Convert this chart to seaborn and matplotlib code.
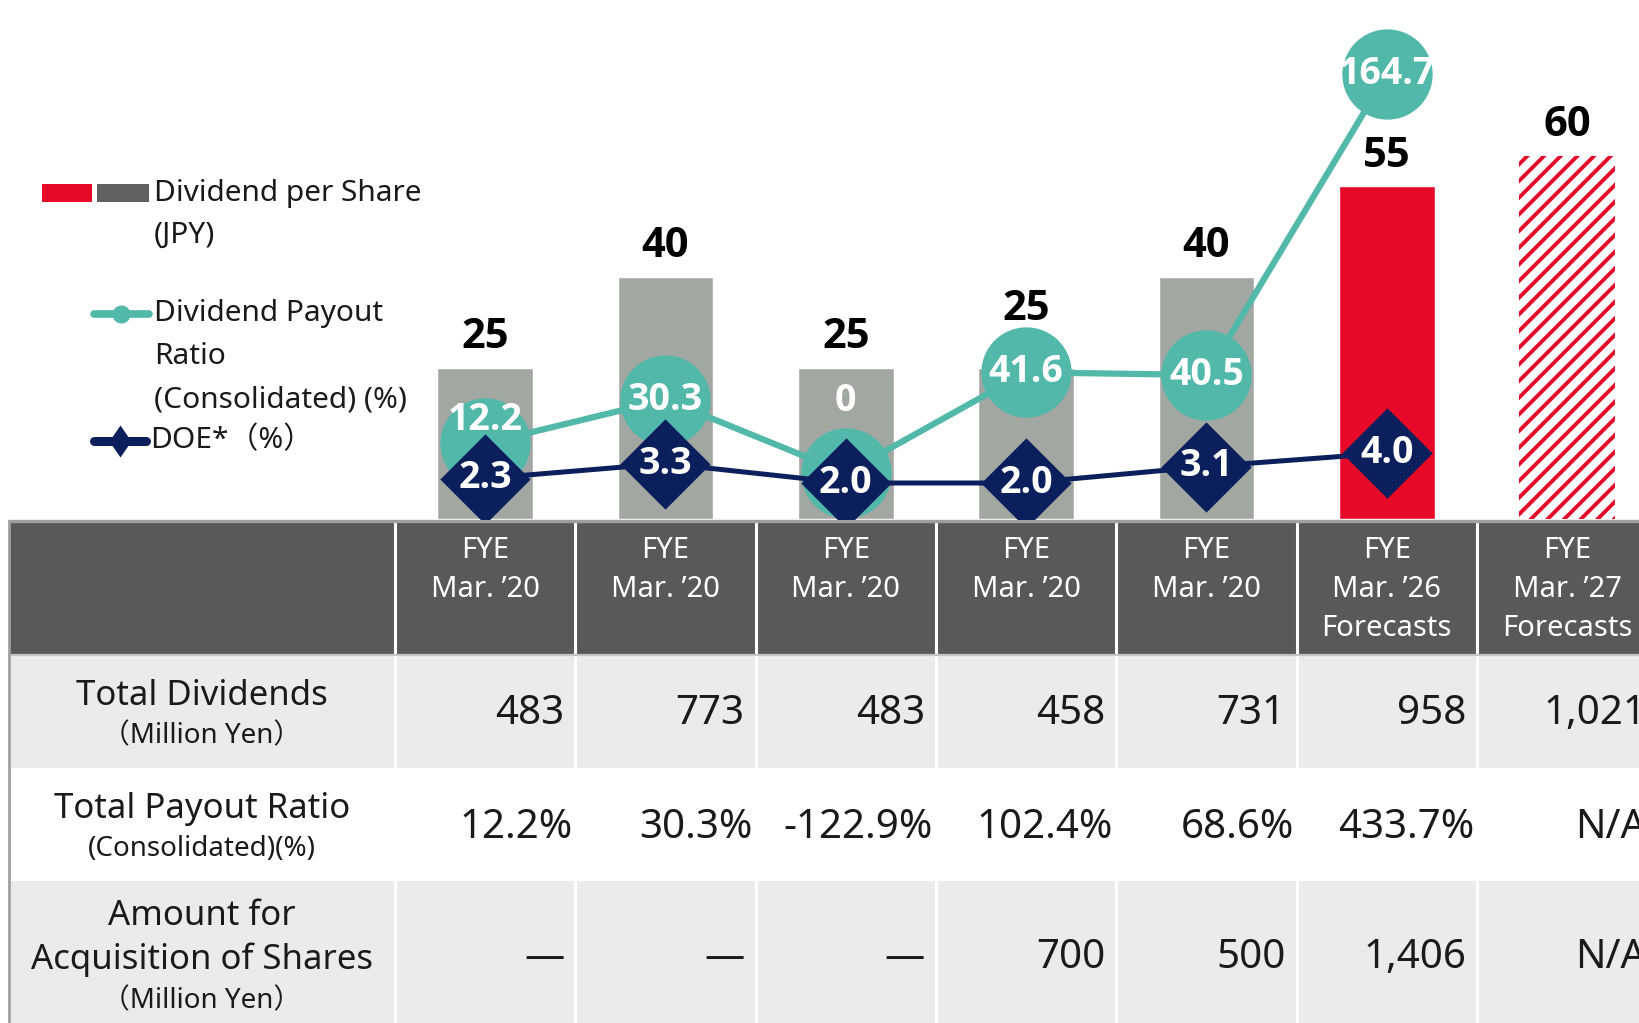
import numpy as np
import pandas as pd
import matplotlib.pyplot as plt
import seaborn as sns
from matplotlib.patches import Rectangle
from matplotlib.lines import Line2D

sns.set_theme(style='white')
plt.rcParams['font.family'] = ['Noto Sans', 'Noto Sans CJK JP', 'DejaVu Sans']
plt.rcParams['hatch.linewidth'] = 2.8
BOLD = ['Open Sans', 'Roboto', 'DejaVu Sans']

# --- data ---
periods = ["FYE\nMar. ’20", "FYE\nMar. ’20", "FYE\nMar. ’20", "FYE\nMar. ’20",
           "FYE\nMar. ’20", "FYE\nMar. ’26\nForecasts", "FYE\nMar. ’27\nForecasts"]
dps = [25, 40, 25, 25, 40, 55, 60]                  # dividend per share (JPY)
payout_ratio = [12.2, 30.3, 0, 41.6, 40.5, 164.7]   # consolidated, %
doe = [2.3, 3.3, 2.0, 2.0, 3.1, 4.0]                # %
total_dividends = [483, 773, 483, 458, 731, 958, 1021]
total_payout = [12.2, 30.3, -122.9, 102.4, 68.6, 433.7, None]
buyback = [0, 0, 0, 700, 500, 1406, None]

row_labels = [["Total Dividends", "（Million Yen）"],
              ["Total Payout Ratio", "(Consolidated)(%)"],
              ["Amount for", "Acquisition of Shares", "（Million Yen）"]]

# --- colours ---
GRAY_BAR = '#A3A7A2'
RED = '#E60A28'
TEAL = '#52B8AA'
NAVY = '#0B1F5C'
HEADER = '#595959'
SHADE = '#EBEBEB'
LEGEND_GRAY = '#606060'

# --- layout (pixels, origin top-left) ---
W, H = 1640, 1023
TBL_LEFT = 9
COL0, COL_W = 395, 180.33
TBL_TOP, HEAD_BOT = 521, 655
ROW_EDGES = [655, 768, 881, 1060]
BASE = 519
n = len(periods)

fig = plt.figure(figsize=(W / 100, H / 100), dpi=100)

# overlay for table + legend, in pixel coords
lay = fig.add_axes([0, 0, 1, 1], zorder=0)
lay.set_xlim(0, W)
lay.set_ylim(H, 0)
lay.axis('off')

# --- bars ---
ax = fig.add_axes([COL0 / W, (H - BASE) / H, n * COL_W / W, BASE / H], zorder=2)
ax.set_facecolor('none')
df = pd.DataFrame({'period': np.arange(n), 'dps': dps})
sns.barplot(data=df, x='period', y='dps', color=GRAY_BAR, saturation=1,
            width=0.53, errorbar=None, ax=ax)
bars = ax.patches
bars[5].set_facecolor(RED)
bars[6].set_facecolor('white')
bars[6].set_edgecolor(RED)
bars[6].set_linewidth(0)
bars[6].set_hatch('//')
# label of bar 4 sits higher so it clears the payout circle
bar_pad = [7, 7, 7, 27, 7, 7, 7]
for i, v in enumerate(dps):
    ax.annotate(str(v), (i, v), xytext=(0, bar_pad[i]), textcoords='offset points',
                ha='center', va='bottom', fontsize=30, fontweight='bold',
                family=BOLD, color='black')
ax.set_xlim(-0.5, n - 0.5)
ax.set_ylim(0, BASE / 6.05)
ax.axis('off')

# --- payout ratio line ---
ax2 = ax.twinx()
ax2.set_zorder(3)
x_line = np.arange(len(payout_ratio))
sns.lineplot(x=x_line, y=payout_ratio, color=TEAL, linewidth=4.5, marker='o',
             markersize=65, markeredgewidth=0, ax=ax2)
ax2.set_ylim(-46 / 2.42, (BASE - 46) / 2.42)
ax2.axis('off')
payout_nudge = {0: 17, 2: 52}  # points, labels lifted where diamonds overlap
for i, v in enumerate(payout_ratio):
    ax2.annotate(f"{v:g}", (i, v), xytext=(0, payout_nudge.get(i, 0)),
                 textcoords='offset points', ha='center', va='center',
                 color='white', fontsize=27, fontweight='bold', family=BOLD)

# --- DOE line ---
ax3 = ax.twinx()
ax3.set_zorder(4)
diamond = [(0, 1), (1, 0), (0, -1), (-1, 0)]
sns.lineplot(x=np.arange(len(doe)), y=doe, color=NAVY, linewidth=3.6,
             marker=diamond, markersize=65, markeredgewidth=0, ax=ax3)
ax3.set_ylim(-6 / 15, (BASE - 6) / 15)
ax3.axis('off')
for i, v in enumerate(doe):
    ax3.text(i, v, f"{v:.1f}", ha='center', va='center', color='white',
             fontsize=27, fontweight='bold', family=BOLD)

# --- legend ---
lay.add_patch(Rectangle((42, 184), 50, 18, color=RED, lw=0))
lay.add_patch(Rectangle((97, 184), 52, 18, color=LEGEND_GRAY, lw=0))
lay.text(154, 193, "Dividend per Share", fontsize=21.5, va='center', color='#1a1a1a')
lay.text(154, 235, "(JPY)", fontsize=21.5, va='center', color='#1a1a1a')
lay.add_line(Line2D([94, 149], [314, 314], color=TEAL, lw=5.5))
lay.add_line(Line2D([121], [314], color=TEAL, marker='o', markersize=13, mew=0))
for k, t in enumerate(["Dividend Payout", "Ratio", "(Consolidated) (%)"]):
    lay.text(154, 314 + 43 * k, t, fontsize=21.5, va='center', color='#1a1a1a')
lay.add_line(Line2D([94, 146], [441, 441], color=NAVY, lw=6.5))
lay.add_line(Line2D([120], [441], color=NAVY, mew=0, markersize=23,
                    marker=[(0, 1.45), (1, 0), (0, -1.45), (-1, 0)]))
lay.text(150, 441, "DOE*（%）", fontsize=21.5, va='center', color='#1a1a1a')

# --- table ---
right = COL0 + n * COL_W
lay.add_patch(Rectangle((TBL_LEFT, TBL_TOP), right - TBL_LEFT, HEAD_BOT - TBL_TOP,
                        color=HEADER, lw=0))
shades = [SHADE, 'white', SHADE]
for r in range(3):
    lay.add_patch(Rectangle((TBL_LEFT, ROW_EDGES[r]), right - TBL_LEFT,
                            ROW_EDGES[r + 1] - ROW_EDGES[r], color=shades[r], lw=0))
for k in range(n):
    xd = COL0 + k * COL_W
    lay.plot([xd, xd], [TBL_TOP, H + 40], color='white', lw=2.2)
lay.plot([TBL_LEFT, right], [HEAD_BOT, HEAD_BOT], color='#C4C4C4', lw=1.6)
lay.plot([TBL_LEFT, W + 20], [TBL_TOP, TBL_TOP], color='#A0A0A0', lw=2.4)
lay.plot([TBL_LEFT, TBL_LEFT], [TBL_TOP, H + 40], color='#A0A0A0', lw=2.0)

for k, p in enumerate(periods):
    cx = COL0 + (k + 0.5) * COL_W
    for j, line in enumerate(p.split('\n')):
        lay.text(cx, 551 + 38.5 * j, line, ha='center', va='center',
                 color='white', fontsize=21)

label_x = (TBL_LEFT + COL0) / 2
label_y = [[696, 736], [809, 849], [916, 960, 1001]]
for r, lines in enumerate(row_labels):
    for j, t in enumerate(lines):
        small = t.startswith('（') or t.startswith('(C')
        lay.text(label_x, label_y[r][j], t, ha='center', va='center',
                 fontsize=20 if small else 25, color='#1a1a1a')

row1 = [f"{v:,}" for v in total_dividends]
row2 = ["N/A" if v is None else f"{v:.1f}%" for v in total_payout]
row3 = ["N/A" if v is None else ("—" if v == 0 else f"{v:,}") for v in buyback]
value_y = [714, 828, 958]
pads = [11, 3, 11]
for r, vals in enumerate([row1, row2, row3]):
    for k, t in enumerate(vals):
        xr = COL0 + (k + 1) * COL_W - (11 if t == "N/A" else pads[r])
        lay.text(xr, value_y[r], t, ha='right', va='center', fontsize=29,
                 color='#1a1a1a')

fig.savefig('out.png', dpi=100)
